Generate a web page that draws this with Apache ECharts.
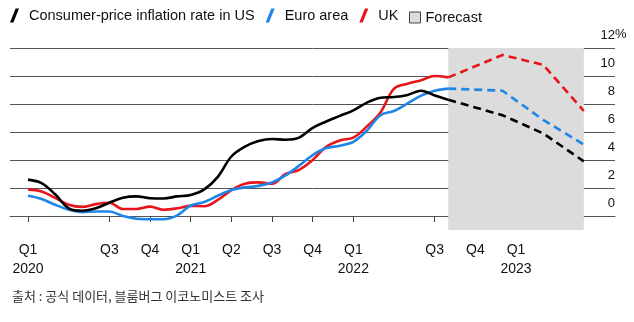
<!DOCTYPE html>
<html>
<head>
<meta charset="utf-8">
<script src="https://cdn.jsdelivr.net/npm/echarts@6/dist/echarts.min.js"></script>
<style>
  html, body { margin: 0; padding: 0; background: #fff; }
  #chart { width: 634px; height: 322px; }
</style>
</head>
<body>
<div id="chart"></div>
<script>
// months counted from Jan 2020 (0)
var months = [0,1,2,3,4,5,6,7,8,9,10,11,12,13,14,15,16,17,18,19,20,21,22,23,24,25,26,27,28,29,30,31];
var usActual   = [2.6,2.35,1.55,0.55,0.38,0.55,0.95,1.3,1.4,1.27,1.25,1.4,1.5,1.9,2.8,4.25,4.95,5.35,5.5,5.45,5.6,6.3,6.75,7.15,7.55,8.1,8.45,8.5,8.65,8.95,8.6,8.3];
var euroActual = [1.45,1.22,0.8,0.45,0.28,0.32,0.32,0.0,-0.2,-0.23,-0.23,0.05,0.75,1.0,1.45,1.85,2.05,2.15,2.4,2.9,3.6,4.35,4.85,5.02,5.3,6.1,7.2,7.5,8.05,8.6,8.95,9.1];
var ukActual   = [1.9,1.75,1.3,0.8,0.65,0.85,0.95,0.5,0.5,0.67,0.45,0.55,0.72,0.7,1.15,1.85,2.3,2.4,2.3,3.0,3.3,4.0,4.95,5.4,5.6,6.4,7.4,9.1,9.45,9.7,10.0,9.9];

var forecastMonths = [31,35,38,41];
var usForecast   = [8.3,7.2,5.9,3.9];
var euroForecast = [9.1,8.95,6.87,5.1];
var ukForecast   = [9.9,11.5,10.8,7.5];

var forecastSpan = [31,41];

var tickMonths = [0,6,9,12,15,18,21,24,30,33,36];
var tickLabels = ['Q1\n2020','Q3','Q4','Q1\n2021','Q2','Q3','Q4','Q1\n2022','Q3','Q4','Q1\n2023'];

var names = ['Consumer-price inflation rate in US','Euro area','UK'];
var colors = ['#000000','#1f85e6','#e8141b'];

var font = 'Liberation Sans, Arial, sans-serif';
var slash = 'path://M0,14 L3.4,14 L9,0 L5.6,0 Z';

function pairs(xs, ys) {
  var out = [];
  for (var i = 0; i < xs.length; i++) out.push([xs[i], ys[i]]);
  return out;
}

var chart = echarts.init(document.getElementById('chart'));

var actual = [usActual, euroActual, ukActual];
var fc = [usForecast, euroForecast, ukForecast];
var series = [];

series.push({
  name: 'Forecast',
  type: 'line',
  data: [],
  z: -1,
  silent: true,
  markArea: {
    silent: true,
    itemStyle: { color: '#dcdcdc' },
    data: [[{ xAxis: forecastSpan[0] }, { xAxis: forecastSpan[1] }]]
  }
});

for (var i = 0; i < 3; i++) {
  series.push({
    name: names[i],
    type: 'line',
    data: pairs(months, actual[i]),
    smooth: 0.35,
    showSymbol: false,
    color: colors[i],
    lineStyle: { width: 2.6, color: colors[i] },
    z: 5 - i
  });
  series.push({
    name: names[i] + ' forecast',
    type: 'line',
    data: pairs(forecastMonths, fc[i]),
    showSymbol: false,
    color: colors[i],
    lineStyle: { width: 2.6, color: colors[i], type: [8, 5] },
    z: 5 - i
  });
}

var option = {
  animation: false,
  backgroundColor: '#fff',
  textStyle: { fontFamily: font },
  grid: { left: 10, right: 19, top: 48, bottom: 92 },
  legend: [{
    left: 10,
    top: 8,
    padding: 0,
    itemWidth: 9,
    itemHeight: 14,
    itemGap: 11,
    selectedMode: false,
    textStyle: { fontSize: 14.5, color: '#111', fontFamily: font, padding: [0, 0, 0, 5] },
    data: [
      { name: names[0], icon: slash },
      { name: names[1], icon: slash },
      { name: names[2], icon: slash }
    ]
  }, {
    left: 409,
    top: 10,
    padding: 0,
    itemWidth: 11,
    itemHeight: 11,
    selectedMode: false,
    textStyle: { fontSize: 14.5, color: '#111', fontFamily: font },
    data: [
      { name: 'Forecast', icon: 'rect', itemStyle: { color: '#dcdcdc', borderColor: '#444', borderWidth: 1 } }
    ]
  }],
  xAxis: {
    type: 'value',
    min: -1.33,
    max: 43.3,
    axisLine: { show: true, lineStyle: { color: '#555', width: 1 } },
    axisTick: { show: true, customValues: tickMonths, length: 6, lineStyle: { color: '#444' } },
    axisLabel: {
      customValues: tickMonths,
      margin: 11,
      fontSize: 14,
      lineHeight: 19,
      color: '#111',
      formatter: function (v) {
        var k = tickMonths.indexOf(v);
        return k >= 0 ? tickLabels[k] : '';
      }
    },
    splitLine: { show: false }
  },
  yAxis: {
    type: 'value',
    position: 'right',
    min: -1,
    max: 12,
    interval: 1,
    axisLine: { show: false },
    axisTick: { show: false },
    splitLine: { show: true, lineStyle: { color: ['rgba(0,0,0,0)', '#555'], width: 1 } },
    axisLabel: {
      inside: true,
      margin: 0,
      fontSize: 13,
      lineHeight: 14,
      color: '#111',
      verticalAlign: 'bottom',
      padding: [0, 0, 6, 0],
      formatter: function (v) {
        return (v >= 0 && v % 2 === 0) ? String(v) : '';
      }
    }
  },
  graphic: [{
    type: 'text',
    left: 615,
    top: 28,
    style: { text: '%', fontSize: 13, fill: '#111', fontFamily: font }
  }, {
    type: 'text',
    left: 12,
    top: 290,
    style: { text: '출처 : 공식 데이터, 블룸버그 이코노미스트 조사', fontSize: 13, fill: '#333', fontFamily: 'Noto Sans CJK KR, sans-serif' }
  }],
  series: series
};

chart.setOption(option);
</script>
</body>
</html>
